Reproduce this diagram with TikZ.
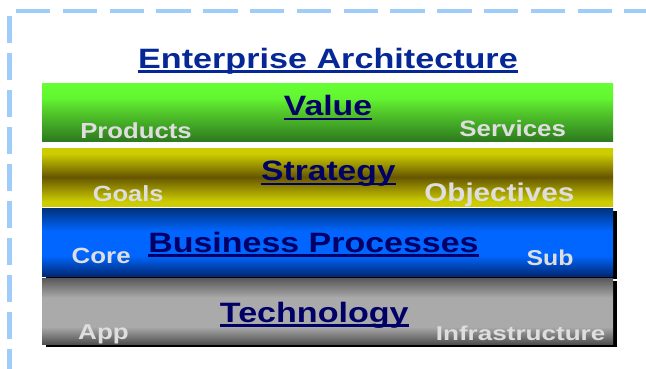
\documentclass[tikz,border=0pt]{standalone}
\usepackage{fontspec}
\setmainfont{Liberation Sans}
\usepackage{graphicx}
\definecolor{dashblue}{RGB}{160,204,250}
\definecolor{titleblue}{RGB}{5,40,150}
\definecolor{navy}{RGB}{0,0,102}
\definecolor{sublbl}{RGB}{222,222,222}
\definecolor{gT}{RGB}{102,255,51}
\definecolor{gT2}{RGB}{98,245,50}
\definecolor{gM}{RGB}{82,200,42}
\definecolor{gM1}{RGB}{62,160,36}
\definecolor{gB}{RGB}{46,122,30}
\definecolor{yT}{RGB}{204,204,0}
\definecolor{yM}{RGB}{102,86,0}
\definecolor{bT}{RGB}{0,50,125}
\definecolor{bM}{RGB}{0,102,255}
\definecolor{bB}{RGB}{0,40,115}
\definecolor{kT}{RGB}{88,88,88}
\definecolor{kM}{RGB}{170,170,170}
\definecolor{kB}{RGB}{80,80,80}
\pgfdeclareverticalshading{greenbar}{100bp}{color(0bp)=(gB); color(25bp)=(gB); color(37bp)=(gM1); color(50bp)=(gM); color(62bp)=(gT2); color(75bp)=(gT); color(100bp)=(gT)}
\pgfdeclareverticalshading{yellowbar}{100bp}{color(0bp)=(yT); color(29bp)=(yT); color(50bp)=(yM); color(70bp)=(yT); color(100bp)=(yT)}
\pgfdeclareverticalshading{bluebar}{100bp}{color(0bp)=(bB); color(25bp)=(bB); color(40bp)=(bM); color(58bp)=(bM); color(75bp)=(bT); color(100bp)=(bT)}
\pgfdeclareverticalshading{greybar}{100bp}{color(0bp)=(kB); color(25bp)=(kB); color(38bp)=(kM); color(60bp)=(kM); color(75bp)=(kT); color(100bp)=(kT)}
\newcommand{\mylbl}[3]{\scalebox{#1}[1]{\fontsize{#2}{#2}\selectfont\bfseries #3}}
\tikzset{
  lbl/.style={inner sep=0pt, anchor=base},
  head/.style={lbl, text=navy},
  sub/.style={lbl, text=sublbl},
  ul/.style={draw=navy, line width=2.8pt},
  shadowbox/.style={fill=black},
  border/.style={draw=dashblue, line width=4pt}
}
\begin{document}
\begin{tikzpicture}[x=1pt,y=-1pt]
\useasboundingbox (0,0) rectangle (646,368);
% dashed frame
\draw[border, line width=3.7pt, dash pattern=on 34.3pt off 12.5pt] (16,11) -- (660,11);
\draw[border, line width=4.6pt, dash pattern=on 27pt off 10pt] (9.7,16) -- (9.7,380);
% title
\node[lbl, text=titleblue] (title) at (328,68.5) {\mylbl{1.22}{28}{Enterprise Architecture}};
\draw[draw=titleblue, line width=3pt] ([yshift=-3pt]title.base west) -- ([yshift=-3pt]title.base east);
% shadows
\fill[shadowbox] (46,211) rectangle (617,279);
\fill[shadowbox] (46,281) rectangle (617,347);
% bars
\shade[shading=greenbar] (42,83) rectangle (613,141);
\shade[shading=yellowbar] (42,148) rectangle (613,206);
\shade[shading=bluebar] (42,208) rectangle (613,276);
\shade[shading=greybar] (42,278) rectangle (613,344);
% Value
\node[head] (value) at (328,115) {\mylbl{1.205}{28}{Value}};
\draw[ul] ([yshift=-4pt]value.base west) -- ([yshift=-4pt]value.base east);
\node[sub] (products) at (136,138.3) {\mylbl{1.18}{21.8}{Products}};
\node[sub] (services) at (512.7,136) {\mylbl{1.16}{22.3}{Services}};
% Strategy
\node[head] (strategy) at (328.4,180) {\mylbl{1.2}{28}{Strategy}};
\draw[ul] ([yshift=-4pt]strategy.base west) -- ([yshift=-4pt]strategy.base east);
\node[sub] (goals) at (128.2,201.7) {\mylbl{1.157}{22}{Goals}};
\node[sub] (objectives) at (499.3,201.7) {\mylbl{1.158}{25.6}{Objectives}};
% Business Processes
\node[head] (bp) at (313.5,252.3) {\mylbl{1.213}{28}{Business Processes}};
\draw[ul] ([yshift=-3pt]bp.base west) -- ([yshift=-3pt]bp.base east);
\node[sub] (core) at (101.2,263.3) {\mylbl{1.176}{22}{Core}};
\node[sub] (subp) at (550,265) {\mylbl{1.157}{21.5}{Sub}};
% Technology
\node[head] (tech) at (314.3,322.7) {\mylbl{1.217}{28}{Technology}};
\draw[ul] ([yshift=-3pt]tech.base west) -- ([yshift=-3pt]tech.base east);
\node[sub] (app) at (103.5,339.3) {\mylbl{1.214}{21.4}{App}};
\node[sub] (infra) at (520.6,340) {\mylbl{1.303}{20}{Infrastructure}};
\end{tikzpicture}
\end{document}
